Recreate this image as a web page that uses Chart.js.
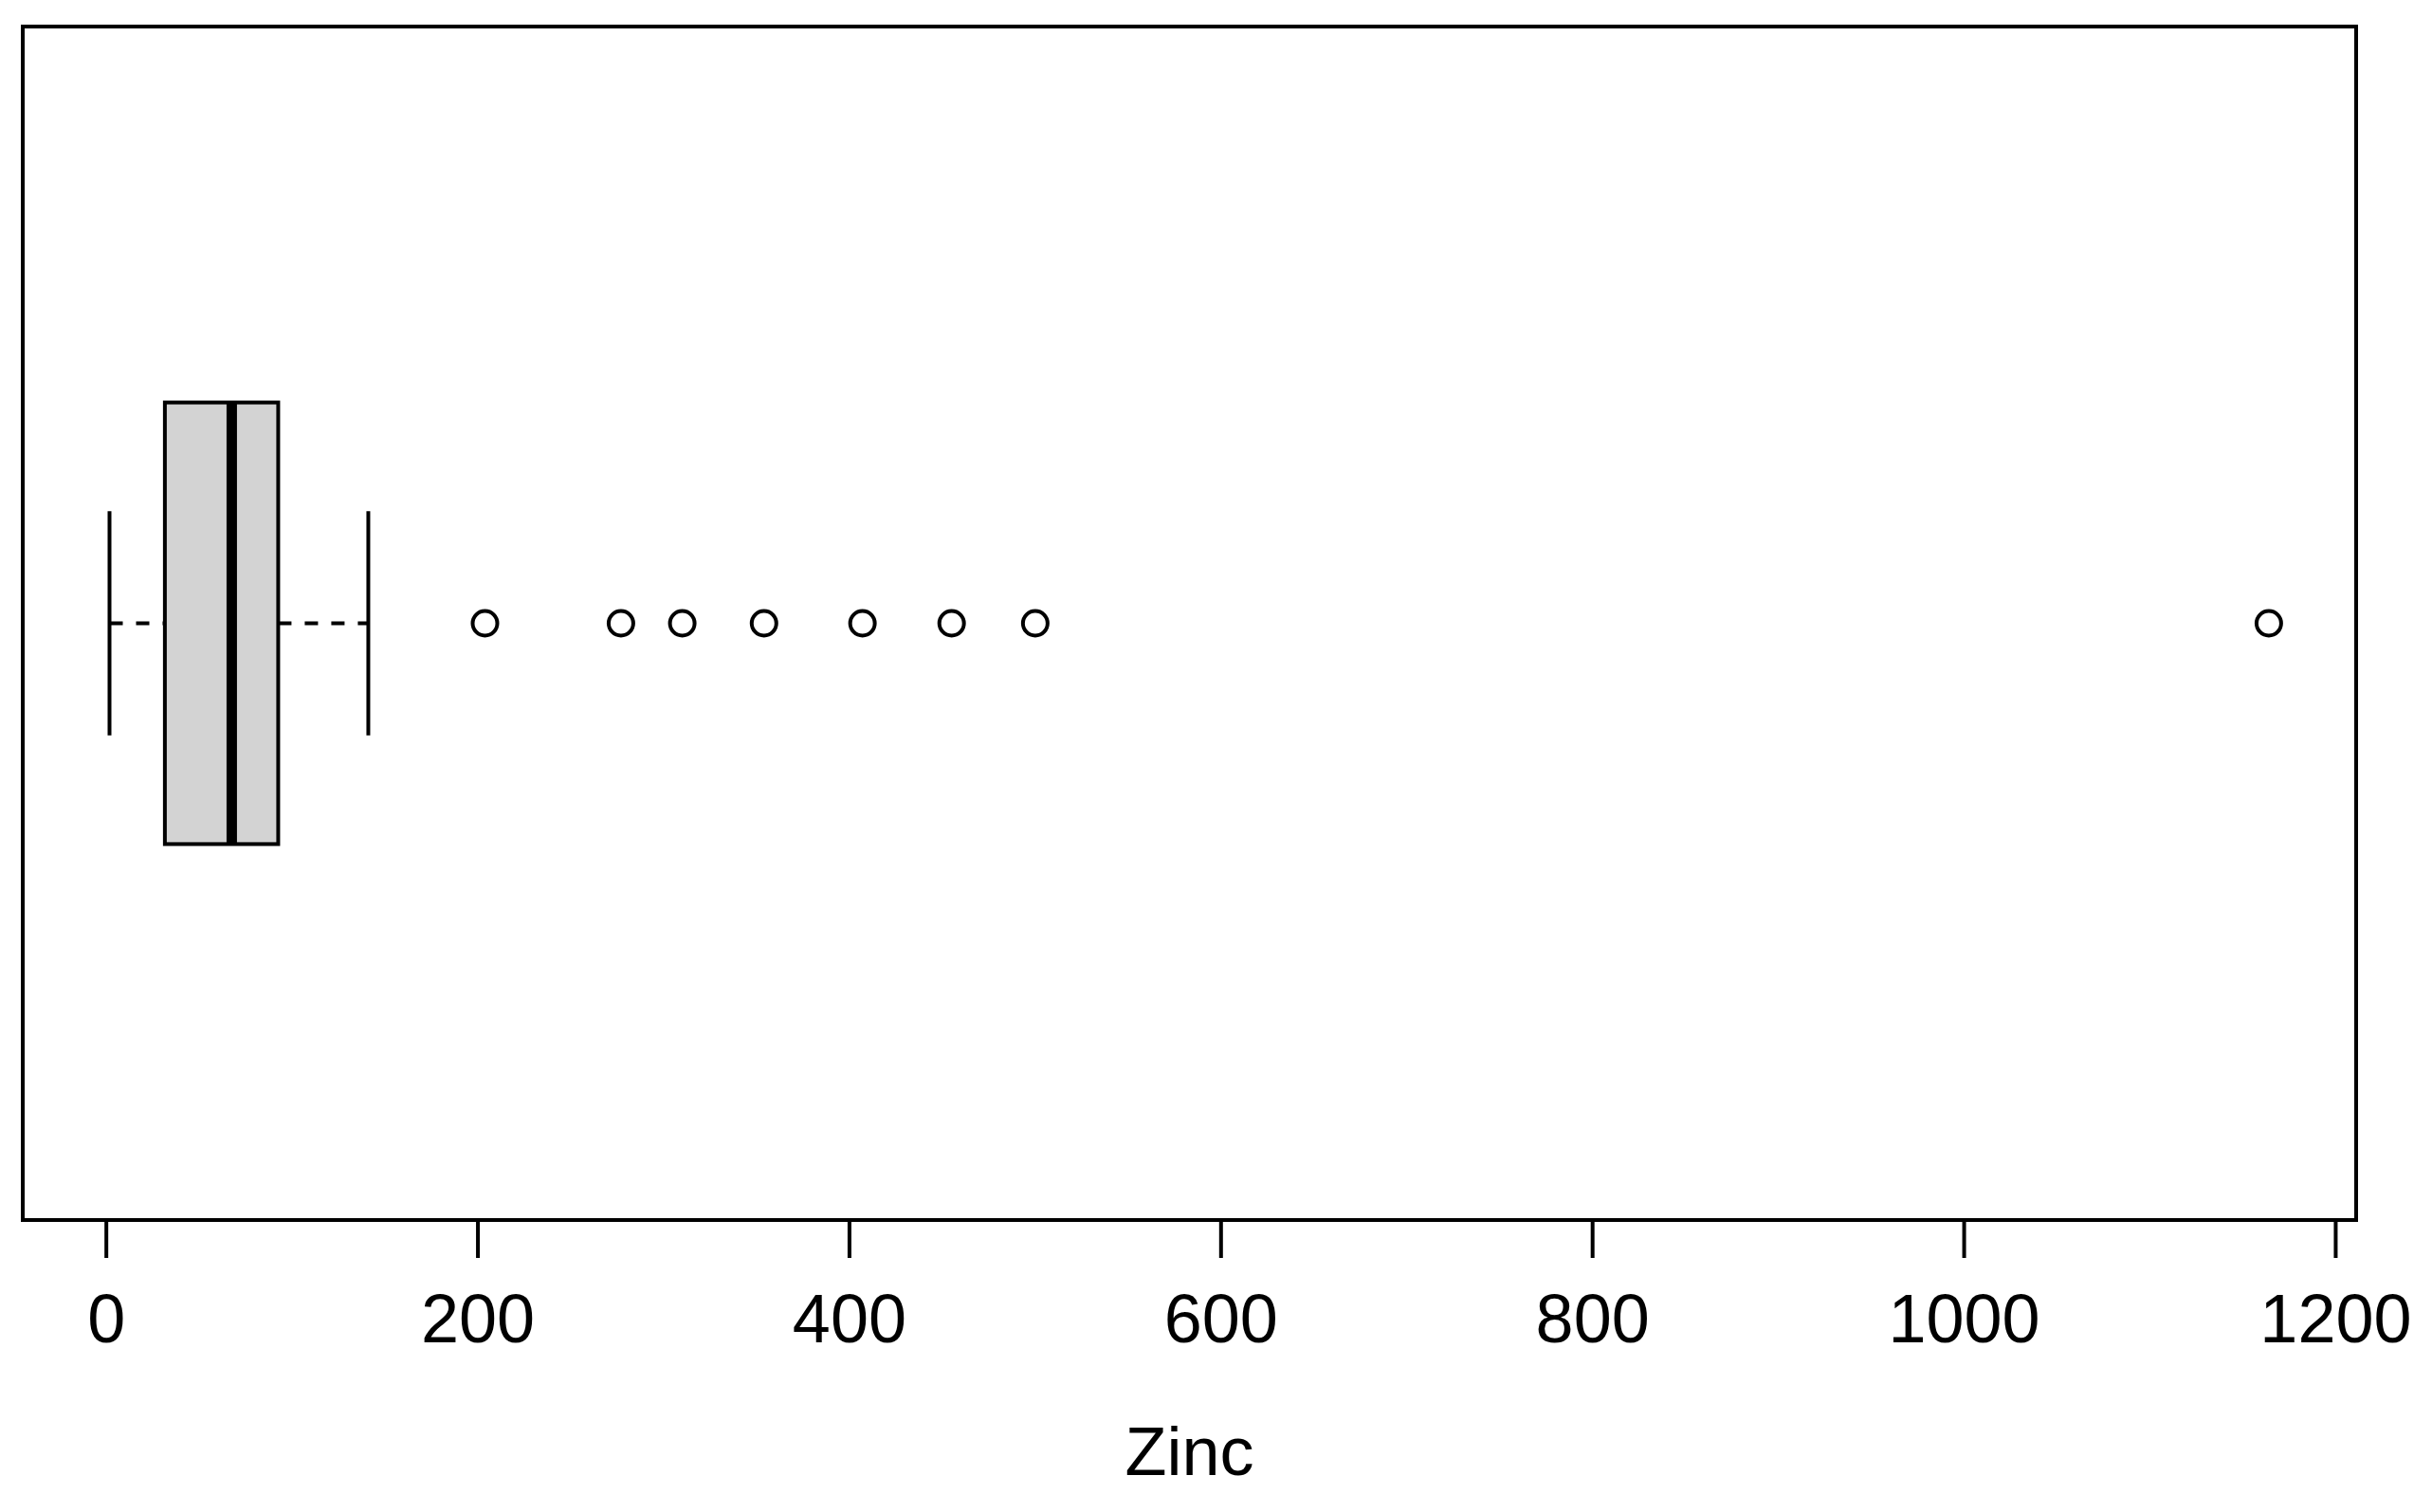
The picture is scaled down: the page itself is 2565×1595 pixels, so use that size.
<!DOCTYPE html>
<html>
<head>
<meta charset="utf-8">
<script src="https://cdn.jsdelivr.net/npm/chart.js@4"></script>
<style>
  body { margin: 0; background: #fff; }
  canvas { display: block; }
</style>
</head>
<body>
<canvas id="grafico" width="2565" height="1595"></canvas>
<script>
// resumen de la caja (Zinc)
const bigoteMin = [1.7];
const cuartil1 = [31.5];
const mediana = [67.5];
const cuartil3 = [92.5];
const bigoteMax = [141];
const atipicos = [203.8, 277, 310, 354, 407, 455, 500, 1164];
const ticksX = [0, 200, 400, 600, 800, 1000, 1200];
const tituloX = "Zinc";

const FUENTE = '"Liberation Sans", Arial, sans-serif';

const pluginCaja = {
  id: "pluginCaja",
  afterDatasetsDraw(chart) {
    const { ctx, chartArea: a, scales: { x, y } } = chart;
    const yc = y.getPixelForValue(0.5);
    const hCaja = y.getPixelForValue(0.5 - 0.185) - yc;
    const hTope = y.getPixelForValue(0.5 - 0.094) - yc;
    const px = (v) => x.getPixelForValue(v);
    ctx.save();
    ctx.strokeStyle = "#000";
    ctx.lineWidth = 4;

    // bigotes punteados
    ctx.setLineDash([14, 14]);
    ctx.beginPath();
    ctx.moveTo(px(bigoteMin[0]), yc); ctx.lineTo(px(cuartil1[0]), yc);
    ctx.moveTo(px(cuartil3[0]), yc); ctx.lineTo(px(bigoteMax[0]), yc);
    ctx.stroke();
    ctx.setLineDash([]);

    // topes
    ctx.beginPath();
    [bigoteMin[0], bigoteMax[0]].forEach((v) => {
      ctx.moveTo(px(v), yc - hTope); ctx.lineTo(px(v), yc + hTope);
    });
    ctx.stroke();

    // caja
    ctx.fillStyle = "#d3d3d3";
    ctx.fillRect(px(cuartil1[0]), yc - hCaja, px(cuartil3[0]) - px(cuartil1[0]), 2 * hCaja);
    ctx.strokeRect(px(cuartil1[0]), yc - hCaja, px(cuartil3[0]) - px(cuartil1[0]), 2 * hCaja);

    // mediana
    ctx.lineWidth = 11;
    ctx.beginPath();
    ctx.moveTo(px(mediana[0]), yc - hCaja); ctx.lineTo(px(mediana[0]), yc + hCaja);
    ctx.stroke();

    // marco
    ctx.lineWidth = 4;
    ctx.strokeRect(a.left, a.top, a.right - a.left, a.bottom - a.top);

    // eje x
    const yEje = a.bottom;
    ctx.beginPath();
    ticksX.forEach((t) => {
      ctx.moveTo(px(t), yEje); ctx.lineTo(px(t), yEje + 40);
    });
    ctx.stroke();
    ctx.fillStyle = "#000";
    ctx.font = `72px ${FUENTE}`;
    ctx.textAlign = "center";
    ctx.textBaseline = "middle";
    ticksX.forEach((t) => ctx.fillText(String(t), px(t), 1396));
    ctx.fillText(tituloX, (a.left + a.right) / 2, 1536);
    ctx.restore();
  },
};

new Chart(document.getElementById("grafico"), {
  type: "scatter",
  data: {
    datasets: [
      {
        data: atipicos.map((v) => ({ x: v, y: 0.5 })),
        pointRadius: 13,
        pointHoverRadius: 13,
        pointBorderWidth: 4,
        pointBorderColor: "#000",
        pointBackgroundColor: "#fff",
      },
    ],
  },
  options: {
    responsive: false,
    animation: false,
    layout: { padding: { left: 24, right: 80, top: 28, bottom: 308 } },
    plugins: { legend: { display: false }, tooltip: { enabled: false } },
    scales: {
      x: { type: "linear", min: -45, max: 1211, display: false },
      y: { type: "linear", min: 0, max: 1, display: false },
    },
  },
  plugins: [pluginCaja],
});
</script>
</body>
</html>
